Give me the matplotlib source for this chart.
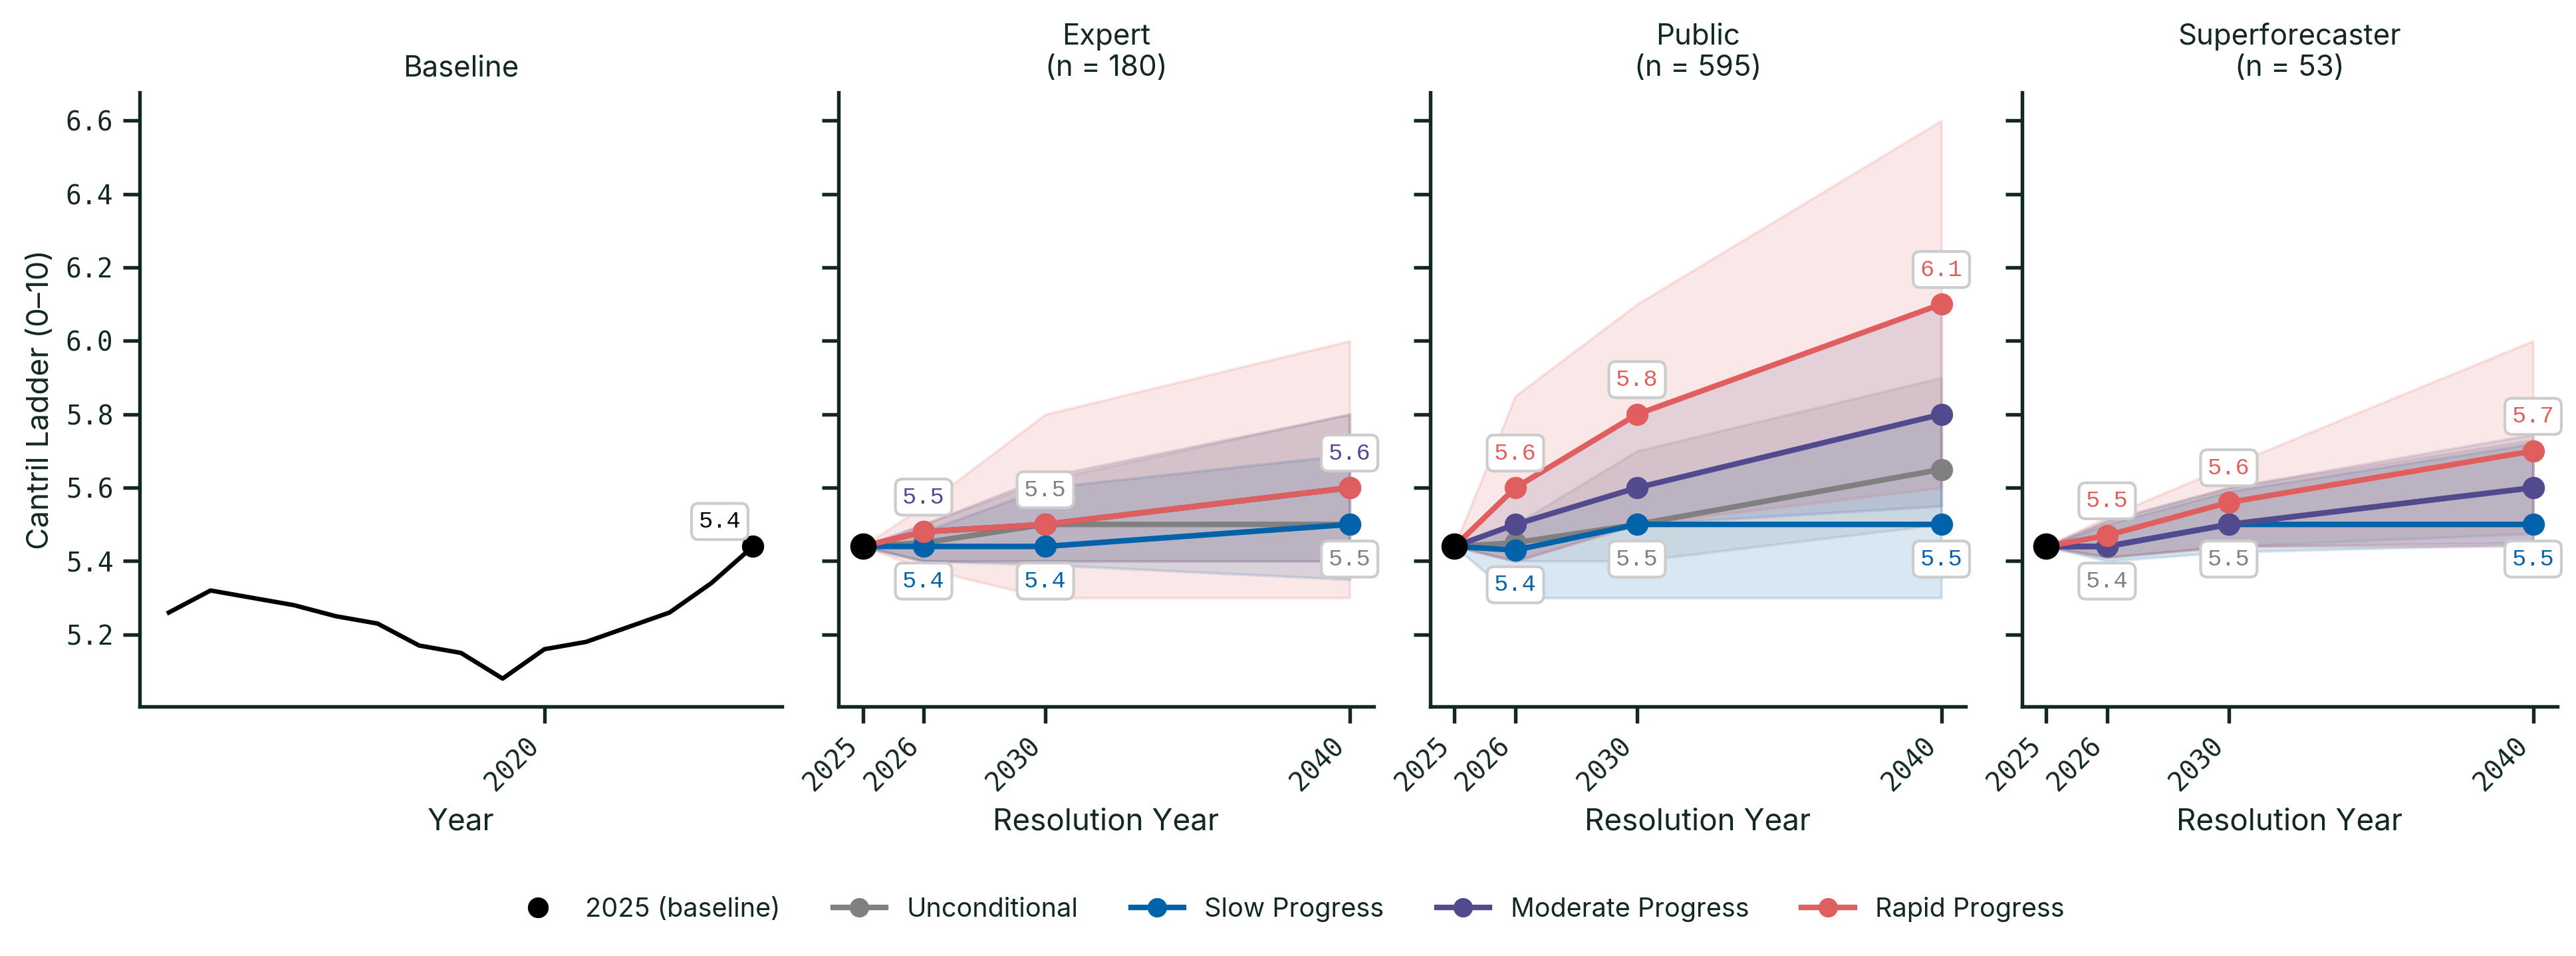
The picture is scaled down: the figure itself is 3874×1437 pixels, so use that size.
import matplotlib
matplotlib.use("Agg")
import matplotlib.pyplot as plt
from matplotlib.lines import Line2D
import numpy as np

# ---- data ----------------------------------------------------------------
hist_years = [2011, 2012, 2013, 2014, 2015, 2016, 2017, 2018, 2019, 2020,
              2021, 2022, 2023, 2024, 2025]
hist_vals = [5.26, 5.32, 5.30, 5.28, 5.25, 5.23, 5.17, 5.15, 5.08, 5.16,
             5.18, 5.22, 5.26, 5.34, 5.44]
baseline_2025 = 5.44

res_labels = ["2025", "2026", "2030", "2040"]
res_pos = [2024, 2026, 2030, 2040]   # baseline drawn one step left of 2026

series_names = ["Unconditional", "Slow Progress", "Moderate Progress", "Rapid Progress"]
series_colors = ["#808080", "#0062A8", "#514A8F", "#E05E5E"]

groups = ["Expert", "Public", "Superforecaster"]
group_n = [180, 595, 53]

# rows: unconditional, slow, moderate, rapid ; cols: 2026, 2030, 2040
expert_mid = [[5.45, 5.50, 5.50], [5.44, 5.44, 5.50], [5.48, 5.50, 5.60], [5.48, 5.50, 5.60]]
expert_lo = [[5.40, 5.40, 5.40], [5.40, 5.39, 5.35], [5.40, 5.40, 5.40], [5.38, 5.30, 5.30]]
expert_hi = [[5.50, 5.62, 5.80], [5.48, 5.60, 5.69], [5.50, 5.63, 5.80], [5.55, 5.80, 6.00]]

public_mid = [[5.45, 5.50, 5.65], [5.43, 5.50, 5.50], [5.50, 5.60, 5.80], [5.60, 5.80, 6.10]]
public_lo = [[5.40, 5.40, 5.50], [5.30, 5.30, 5.30], [5.40, 5.50, 5.55], [5.40, 5.50, 5.60]]
public_hi = [[5.50, 5.70, 5.90], [5.50, 5.60, 5.80], [5.60, 5.80, 6.10], [5.85, 6.10, 6.60]]

super_mid = [[5.44, 5.50, 5.60], [5.44, 5.50, 5.50], [5.44, 5.50, 5.60], [5.47, 5.56, 5.70]]
super_lo = [[5.41, 5.44, 5.475], [5.40, 5.425, 5.445], [5.41, 5.44, 5.45], [5.41, 5.44, 5.44]]
super_hi = [[5.51, 5.60, 5.73], [5.50, 5.59, 5.72], [5.51, 5.60, 5.745], [5.52, 5.66, 6.00]]

group_mid = [expert_mid, public_mid, super_mid]
group_lo = [expert_lo, public_lo, super_lo]
group_hi = [expert_hi, public_hi, super_hi]

# ---- style ---------------------------------------------------------------
ink = "#13291F"
sans = ["Inter", "DejaVu Sans"]
mono_tick = "DejaVu Sans Mono"
mono_lab = "Liberation Mono"

plt.rcParams["font.family"] = sans
plt.rcParams["text.color"] = ink
plt.rcParams["axes.labelcolor"] = ink
plt.rcParams["axes.edgecolor"] = ink
plt.rcParams["xtick.color"] = ink
plt.rcParams["ytick.color"] = ink
plt.rcParams["axes.linewidth"] = 1.3
plt.rcParams["xtick.major.width"] = 1.3
plt.rcParams["ytick.major.width"] = 1.3
plt.rcParams["xtick.major.size"] = 6
plt.rcParams["ytick.major.size"] = 6

fig, axes = plt.subplots(1, 4, figsize=(3874 / 300, 1437 / 300), dpi=300,
                         sharey=True, gridspec_kw={"width_ratios": [1.2, 1, 1, 1]})
fig.subplots_adjust(left=0.0542, right=0.9928, top=0.903, bottom=0.261, wspace=0.1)


def label_box(ax, x, y, text, color, dy, dx=0):
    ax.annotate(text, (x, y), xytext=(dx, dy), textcoords="offset points",
                ha="center", va="center", fontsize=8.5, family=mono_lab, color=color,
                zorder=20,
                bbox=dict(boxstyle="round,pad=0.3", fc="white", ec="#CCCCCC", lw=1))


def style_ax(ax):
    for side in ["top", "right"]:
        ax.spines[side].set_visible(False)
    for lab in ax.get_xticklabels() + ax.get_yticklabels():
        lab.set_family(mono_tick)
        lab.set_fontsize(9.5)


# baseline panel
ax = axes[0]
ax.plot(hist_years, hist_vals, color="black", lw=1.6, zorder=3)
ax.plot(hist_years[-1], hist_vals[-1], "o", color="black", ms=7, zorder=4)
label_box(ax, hist_years[-1], hist_vals[-1], f"{hist_vals[-1]:.1f}", "black", 9, -12)
ax.set_xticks([2020])
ax.set_xticklabels(["2020"], rotation=45, ha="right")
ax.set_xlabel("Year", fontsize=11)
ax.set_ylabel("Cantril Ladder (0–10)", fontsize=11)
ax.set_title("Baseline", fontsize=10.5)
ax.set_yticks([5.2, 5.4, 5.6, 5.8, 6.0, 6.2, 6.4, 6.6])
style_ax(ax)

# conditional forecast panels
for gi, ax in enumerate(axes[1:]):
    mids = group_mid[gi]
    los = group_lo[gi]
    his = group_hi[gi]
    for si in range(4):
        lo = [baseline_2025] + los[si]
        hi = [baseline_2025] + his[si]
        ax.fill_between(res_pos, lo, hi, color=series_colors[si], alpha=0.15, zorder=1)
    for si in range(4):
        ys = [baseline_2025] + mids[si]
        ax.plot(res_pos, ys, "-o", color=series_colors[si], lw=2, ms=7, zorder=3 + si)
    ax.plot(res_pos[0], baseline_2025, "o", color="black", ms=8.5, zorder=10)

    arr = np.array(mids)
    for j in range(arr.shape[1]):
        top = int(np.argmax(arr[:, j]))
        bot = int(np.argmin(arr[:, j]))
        label_box(ax, res_pos[j + 1], arr[top, j], f"{arr[top, j]:.1f}", series_colors[top], 12.5)
        label_box(ax, res_pos[j + 1], arr[bot, j], f"{arr[bot, j]:.1f}", series_colors[bot], -12.5)

    ax.set_xticks(res_pos)
    ax.set_xticklabels(res_labels, rotation=45, ha="right")
    ax.set_xlabel("Resolution Year", fontsize=11)
    ax.set_title(f"{groups[gi]}\n(n = {group_n[gi]})", fontsize=10.5)
    ax.tick_params(labelleft=False)
    style_ax(ax)

handles = [Line2D([], [], ls="none", marker="o", color="black", ms=6.5, label="2025 (baseline)")]
for name, col in zip(series_names, series_colors):
    handles.append(Line2D([], [], color=col, lw=2, marker="o", ms=6, label=name))
fig.legend(handles=handles, loc="center", bbox_to_anchor=(0.5, 0.049), ncol=5,
           frameon=False, fontsize=9.5, columnspacing=2.0)

fig.savefig("out.png", dpi=300)
